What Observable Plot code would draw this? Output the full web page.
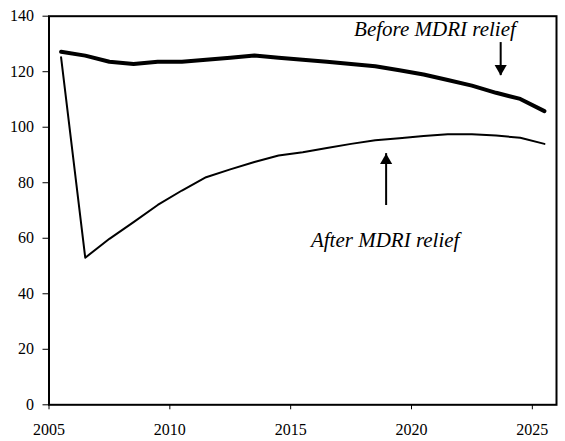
<!DOCTYPE html>
<html>
<head>
<meta charset="utf-8">
<script src="https://cdn.jsdelivr.net/npm/d3@7"></script>
<script src="https://cdn.jsdelivr.net/npm/@observablehq/plot@0.6"></script>
<style>
  html, body { margin: 0; padding: 0; background: #fff; }
  #chart svg { display: block; font-family: "Liberation Serif", serif !important; }
  #chart svg text, #chart svg g { font-family: "Liberation Serif", serif !important; }
</style>
</head>
<body>
<div id="chart"></div>
<script>
// Fiscal years (plotted at mid-year)
const years = [2005,2006,2007,2008,2009,2010,2011,2012,2013,2014,2015,2016,2017,2018,2019,2020,2021,2022,2023,2024,2025];
const beforeMDRI = [127.2,125.8,123.6,122.8,123.6,123.6,124.3,125.0,125.8,125.0,124.3,123.6,122.8,122.0,120.5,119.0,117.0,115.0,112.4,110.2,105.8];
const afterMDRI  = [125.2,53.0,59.8,65.8,72.0,77.2,82.0,84.8,87.5,89.8,91.0,92.5,94.0,95.3,96.0,96.8,97.5,97.5,97.0,96.2,94.0];
const xTicks = [2005, 2010, 2015, 2020, 2025];
const yTicks = [0, 20, 40, 60, 80, 100, 120, 140];

// Annotation labels and arrows (data units)
const labels = [
  {text: "Before MDRI relief", x: 2020.97, y: 132.7},
  {text: "After MDRI relief",  x: 2018.91, y: 56.7}
];
const arrows = [
  {x: 2023.69, tail: 130.5, tip: 118.6, dir: "down"},
  {x: 2018.95, tail: 71.8,  tip: 90.5,  dir: "up"}
];

const before = years.map((y, i) => ({year: y + 0.5, value: beforeMDRI[i]}));
const after  = years.map((y, i) => ({year: y + 0.5, value: afterMDRI[i]}));

const font = "Liberation Serif";

const chart = Plot.plot({
  width: 565,
  height: 441,
  marginLeft: 48.5,
  marginRight: 9,
  marginTop: 15.7,
  marginBottom: 36.7,
  style: {fontFamily: font, fontSize: "16px", color: "#000", background: "#fff"},
  x: {domain: [2005, 2026], label: null},
  y: {domain: [0, 140], label: null},
  marks: [
    Plot.axisX({ticks: xTicks, tickFormat: d => String(d), tickSize: 5, tickPadding: 14, stroke: "#000", fill: "#000", fontSize: 16, fontFamily: font, label: null}),
    Plot.axisY({ticks: yTicks, tickSize: 6, tickPadding: 9, stroke: "#000", fill: "#000", fontSize: 16, fontFamily: font, label: null}),
    Plot.frame({stroke: "#000", strokeWidth: 2}),
    Plot.line(before, {x: "year", y: "value", stroke: "#000", strokeWidth: 4, strokeLinejoin: "round"}),
    Plot.line(after, {x: "year", y: "value", stroke: "#000", strokeWidth: 2, strokeLinejoin: "round"}),
    Plot.ruleX(arrows, {x: "x", y1: "tail", y2: "tip", stroke: "#000", strokeWidth: 2}),
    Plot.dot(arrows.filter(a => a.dir === "down"), {x: "x", y: "tip", symbol: "triangle", rotate: 180, r: 4.5, fill: "#000", stroke: null, dy: -7}),
    Plot.dot(arrows.filter(a => a.dir === "up"), {x: "x", y: "tip", symbol: "triangle", r: 4.5, fill: "#000", stroke: null, dy: 7}),
    Plot.text(labels, {x: "x", y: "y", text: "text", fontSize: 21, fontStyle: "italic", fontFamily: font, textAnchor: "middle", lineAnchor: "bottom", fill: "#000"})
  ]
});
document.getElementById("chart").appendChild(chart);
</script>
</body>
</html>
